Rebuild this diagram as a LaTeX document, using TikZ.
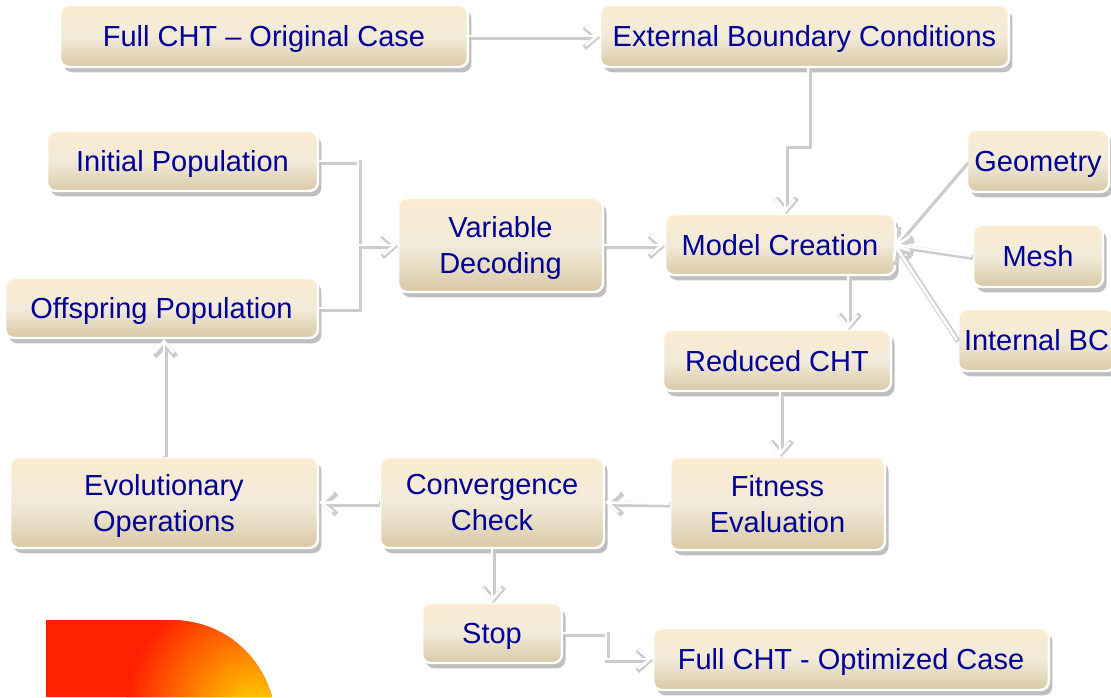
\documentclass[tikz,border=0pt]{standalone}
\usepackage{fontspec}
\setmainfont{Liberation Sans}
\usetikzlibrary{arrows.meta,shadows}
\definecolor{txtblue}{RGB}{0,0,150}
\definecolor{boxtop}{RGB}{252,236,208}
\definecolor{boxmid}{RGB}{242,234,218}
\definecolor{boxbot}{RGB}{217,201,166}
\definecolor{hotred}{RGB}{255,32,0}
\definecolor{hotyel}{RGB}{255,215,0}
\tikzset{
  box/.style={rectangle, rounded corners=5pt, draw=white, line width=1.4pt,
    top color=boxtop, bottom color=boxbot, middle color=boxmid,
    drop shadow={shadow xshift=2pt, shadow yshift=-3pt, fill=black, opacity=0.25},
    text=txtblue, align=center, inner sep=2pt, text depth=0pt,
    font=\fontsize{16.5}{20.5}\selectfont},
  box2/.style={box, text depth=-3pt},
  tipp/.tip={Straight Barb[length=6.5pt,width=11pt]},
  conn/.style={line width=1.5pt, white, -tipp,
    preaction={draw=black!20, line width=3pt, -{Straight Barb[length=6.8pt,width=12pt]},
      transform canvas={xshift=0.8pt,yshift=-0.8pt}}},
  connl/.style={line width=1.5pt, white,
    preaction={draw=black!20, line width=3pt,
      transform canvas={xshift=0.8pt,yshift=-0.8pt}}},
}
\begin{document}
\begin{tikzpicture}[x=0.02cm,y=-0.02cm]
\useasboundingbox (0,0) rectangle (1111,697);
% decorative gradient shape
\begin{scope}
  \clip (46,697) -- (46,620) -- (170,620) .. controls (228,620) and (262,660) .. (272,697) -- cycle;
  \fill[hotred] (40,610) rectangle (280,700);
  \shade[inner color=hotyel, outer color=hotred] (255,712) circle (130);
\end{scope}
% nodes
\node[box, minimum width=8.16cm, minimum height=1.24cm] (orig) at (264,36) {Full CHT – Original Case};
\node[box, minimum width=8.18cm, minimum height=1.24cm] (ebc) at (804.5,36) {External Boundary Conditions};
\node[box, minimum width=5.42cm, minimum height=1.2cm] (init) at (182.5,161) {Initial Population};
\node[box, minimum width=6.26cm, minimum height=1.2cm] (offs) at (161.5,308) {Offspring Population};
\node[box2, minimum width=4.1cm, minimum height=1.88cm] (vardec) at (500.5,245) {Variable\\Decoding};
\node[box, minimum width=4.6cm, minimum height=1.22cm] (model) at (780,244.5) {Model Creation};
\node[box, minimum width=2.84cm, minimum height=1.24cm] (geom) at (1038,161) {Geometry};
\node[box, minimum width=2.6cm, minimum height=1.24cm] (mesh) at (1038,256) {Mesh};
\node[box, minimum width=3.14cm, minimum height=1.24cm] (intbc) at (1036.5,340) {Internal BC};
\node[box, minimum width=4.56cm, minimum height=1.22cm] (red) at (777,360.5) {Reduced CHT};
\node[box2, minimum width=4.3cm, minimum height=1.86cm] (fit) at (777.5,503.5) {Fitness\\Evaluation};
\node[box2, minimum width=4.48cm, minimum height=1.82cm] (conv) at (492,502.5) {Convergence\\Check};
\node[box2, minimum width=6.16cm, minimum height=1.82cm] (evol) at (164,502.5) {Evolutionary\\Operations};
\node[box, minimum width=2.8cm, minimum height=1.2cm] (stop) at (492,633) {Stop};
\node[box, minimum width=7.92cm, minimum height=1.24cm] (opt) at (851,659) {Full CHT - Optimized Case};
% helper coordinates
\coordinate (a1) at (808,145);
\coordinate (a2) at (785,145);
\coordinate (jn) at (358,245);
\coordinate (c1) at (848,0);
\coordinate (c2) at (780,0);
\coordinate (d1) at (606,0);
\coordinate (mc) at ([xshift=-1pt]model.east);
% connectors
\draw[conn] (orig.east) -- (ebc.west);
\draw[conn] (ebc.south -| a1) -- (a1) -- (a2) -- (a2 |- model.north);
\draw[connl] (init.east) -| (jn);
\draw[connl] (offs.east) -| (jn);
\draw[conn] (jn) -- (vardec.west);
\draw[conn] (vardec.east) -- (vardec.east -| model.west);
\draw[conn] (geom.west) -- (mc);
\draw[conn] (mesh.west) -- (mc);
\draw[conn] (intbc.west) -- (mc);
\draw[conn] (model.south -| c1) -- (red.north -| c1);
\draw[conn] (red.south -| c2) -- (fit.north -| c2);
\draw[conn] (fit.west) -- (conv.east);
\draw[conn] (conv.west) -- (evol.east);
\draw[conn] (evol.north) -- (evol.north |- offs.south);
\draw[conn] (conv.south) -- (stop.north);
\draw[conn] (stop.east) -- (stop.east -| d1) -- (d1 |- opt.west) -- (opt.west);
\end{tikzpicture}
\end{document}
